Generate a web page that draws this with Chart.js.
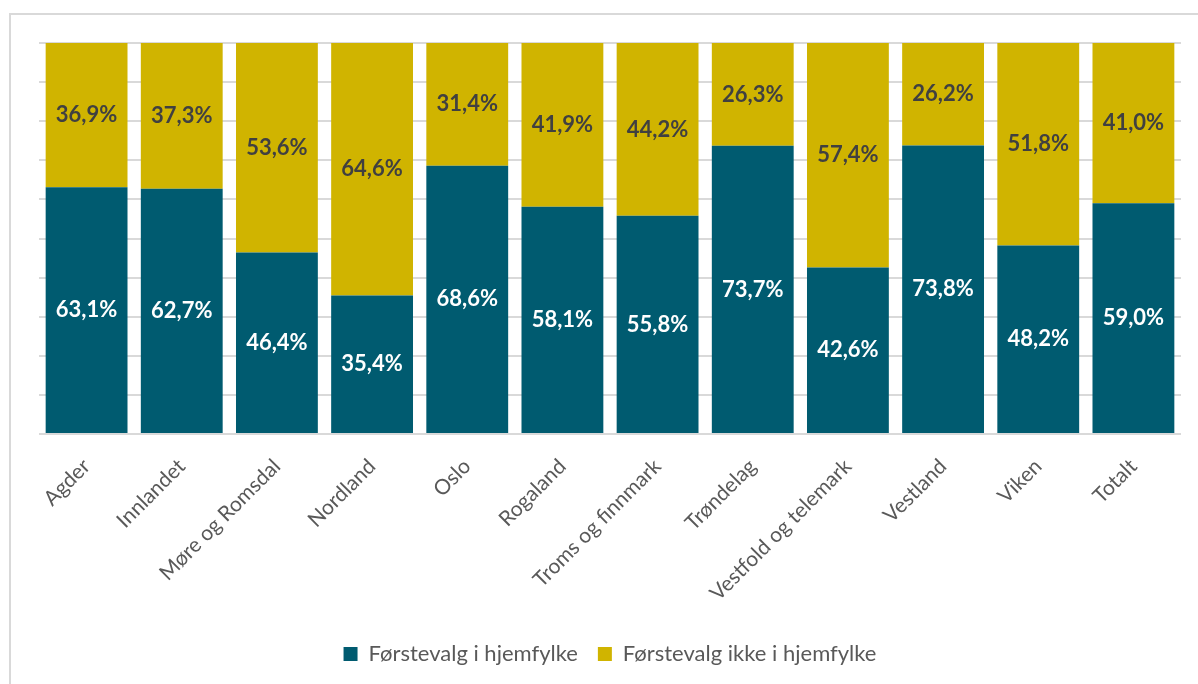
<!DOCTYPE html>
<html>
<head>
<meta charset="utf-8">
<script src="https://cdn.jsdelivr.net/npm/chart.js@4"></script>
<style>
  html, body { margin: 0; padding: 0; background: #fff; overflow: hidden; }
  #frame { position: absolute; left: 9px; top: 13px; width: 1300px; height: 800px;
           border-left: 2px solid #d9d9d9; border-top: 2px solid #d9d9d9; }
  #wrap { position: absolute; left: 0; top: 0; width: 1198px; height: 684px; }
</style>
</head>
<body>
<div id="frame"></div>
<div id="wrap"><canvas id="c" width="1198" height="684"></canvas></div>
<script>
const categories = ["Agder", "Innlandet", "Møre og Romsdal", "Nordland", "Oslo", "Rogaland",
  "Troms og finnmark", "Trøndelag", "Vestfold og telemark", "Vestland", "Viken", "Totalt"];
const hjemfylke = [63.1, 62.7, 46.4, 35.4, 68.6, 58.1, 55.8, 73.7, 42.6, 73.8, 48.2, 59.0];
const ikkeHjemfylke = [36.9, 37.3, 53.6, 64.6, 31.4, 41.9, 44.2, 26.3, 57.4, 26.2, 51.8, 41.0];
const seriesNames = ["Førstevalg i hjemfylke", "Førstevalg ikke i hjemfylke"];

const FONT = "Lato, 'Open Sans', sans-serif";

const labelPlugin = {
  id: 'barLabels',
  afterDatasetsDraw(chart) {
    const ctx = chart.ctx;
    ctx.save();
    ctx.font = "bold 22px " + FONT;
    ctx.textAlign = 'center';
    ctx.textBaseline = 'middle';
    chart.data.datasets.forEach((ds, i) => {
      const meta = chart.getDatasetMeta(i);
      meta.data.forEach((bar, j) => {
        const v = ds.data[j];
        const yc = (bar.y + bar.base) / 2;
        ctx.fillStyle = i === 0 ? '#ffffff' : '#404040';
        ctx.fillText(v.toFixed(1).replace('.', ',') + '%', bar.x, yc);
      });
    });
    ctx.restore();
  }
};

new Chart(document.getElementById('c'), {
  type: 'bar',
  data: {
    labels: categories,
    datasets: [
      { label: seriesNames[0], data: hjemfylke, backgroundColor: '#005B70', borderWidth: 0,
        barPercentage: 0.86, categoryPercentage: 1.0 },
      { label: seriesNames[1], data: ikkeHjemfylke, backgroundColor: '#D0B400', borderWidth: 0,
        barPercentage: 0.86, categoryPercentage: 1.0 }
    ]
  },
  options: {
    responsive: false,
    animation: false,
    layout: { padding: { left: 39, right: 17, top: 43, bottom: 9 } },
    plugins: {
      legend: {
        position: 'bottom',
        labels: { font: { family: FONT, size: 22 }, color: '#595959', boxWidth: 14, boxHeight: 14, padding: 20 }
      },
      tooltip: { enabled: false }
    },
    scales: {
      x: {
        stacked: true,
        grid: { display: false },
        border: { display: false },
        ticks: { font: { family: FONT, size: 21 }, color: '#595959', maxRotation: 45, minRotation: 45, padding: 12, autoSkip: false },
        afterFit(scale) { scale.height = 189; }
      },
      y: {
        stacked: true,
        min: 0, max: 100,
        ticks: { display: false, stepSize: 10 },
        grid: { color: '#d9d9d9', lineWidth: 2, drawTicks: false },
        border: { display: false },
        afterFit(scale) { scale.width = 0; }
      }
    }
  },
  plugins: [labelPlugin]
});
</script>
</body>
</html>
